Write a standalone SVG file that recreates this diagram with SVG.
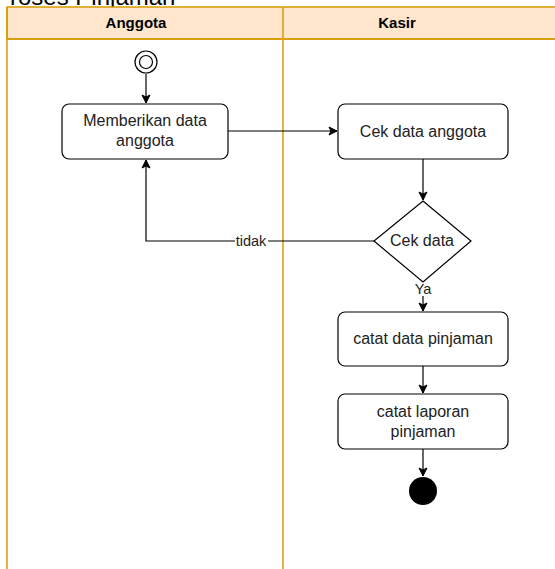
<svg xmlns="http://www.w3.org/2000/svg" width="555" height="569" viewBox="0 0 555 569">
<defs>
<marker id="arr" markerWidth="10" markerHeight="10" refX="9" refY="5" orient="auto" markerUnits="userSpaceOnUse">
<path d="M1,1 L9,5 L1,9 L3,5 Z" fill="#000" stroke="#000" stroke-width="1"/>
</marker>
<style>
.lane{fill:none;stroke:#d79b00;stroke-width:1.5}
.hdr{fill:#ffe6cc;stroke:#d79b00;stroke-width:1.5}
.ht{font-family:"Liberation Sans",Arial,sans-serif;font-weight:bold;font-size:15px;fill:#000;text-anchor:middle}
.box{fill:#fff;stroke:#000;stroke-width:1.2}
.t{font-family:"Liberation Sans",Arial,sans-serif;font-size:16px;fill:#222;text-anchor:middle}
.lbl{font-family:"Liberation Sans",Arial,sans-serif;font-size:14.5px;fill:#222;text-anchor:middle}
.e{fill:none;stroke:#000;stroke-width:1.2;marker-end:url(#arr)}
</style>
</defs>
<rect width="555" height="569" fill="#fff"/>
<text x="-6" y="5" font-family="Liberation Sans,Arial,sans-serif" font-size="24" fill="#000">Proses Pinjaman</text>
<g id="pool">
<rect class="hdr" x="7" y="7" width="560" height="32"/>
<line class="lane" x1="7" y1="7" x2="7" y2="569"/>
<line class="lane" x1="283" y1="7" x2="283" y2="569"/>
<line class="lane" x1="7" y1="39" x2="567" y2="39"/>
<text class="ht" x="136" y="28">Anggota</text>
<text class="ht" x="397" y="28">Kasir</text>
</g>
<g id="connectors">
<line class="e" x1="146" y1="74" x2="146" y2="103"/>
<line class="e" x1="228" y1="131" x2="337" y2="131"/>
<line class="e" x1="423" y1="159" x2="423" y2="200"/>
<polyline class="e" points="374,241 146,241 146,160"/>
<line class="e" x1="423" y1="282" x2="423" y2="311"/>
<line class="e" x1="423" y1="366" x2="423" y2="393"/>
<line class="e" x1="423" y1="449" x2="423" y2="476"/>
<rect x="235" y="233" width="33" height="16" fill="#fff"/>
<text class="lbl" x="251" y="246">tidak</text>
<rect x="414" y="282" width="18" height="14" fill="#fff"/>
<text class="lbl" x="423" y="294">Ya</text>
</g>
<g id="start">
<circle cx="146" cy="62" r="11" fill="#fff" stroke="#000" stroke-width="1.2"/>
<circle cx="146" cy="62" r="6.5" fill="#fff" stroke="#000" stroke-width="1.2"/>
</g>
<g id="memberikan">
<rect class="box" x="62" y="104" width="166" height="55" rx="7"/>
<text class="t" x="145" y="126">Memberikan data</text>
<text class="t" x="145" y="146">anggota</text>
</g>
<g id="cekanggota">
<rect class="box" x="338" y="104" width="170" height="55" rx="7"/>
<text class="t" x="423" y="137">Cek data anggota</text>
</g>
<g id="cekdata">
<polygon class="box" points="423,201 471,241 423,282 374,241"/>
<text class="t" x="422" y="246">Cek data</text>
</g>
<g id="catatdata">
<rect class="box" x="338" y="312" width="170" height="54" rx="7"/>
<text class="t" x="423" y="344">catat data pinjaman</text>
</g>
<g id="catatlaporan">
<rect class="box" x="338" y="394" width="170" height="55" rx="7"/>
<text class="t" x="423" y="417">catat laporan</text>
<text class="t" x="423" y="437">pinjaman</text>
</g>
<g id="end">
<circle cx="423" cy="491" r="14" fill="#000"/>
</g>
</svg>
